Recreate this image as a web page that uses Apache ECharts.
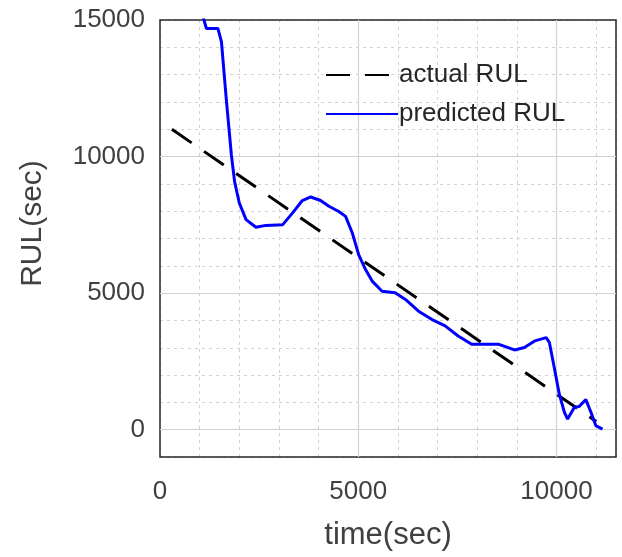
<!DOCTYPE html>
<html>
<head>
<meta charset="utf-8">
<script src="https://cdn.jsdelivr.net/npm/echarts@6/dist/echarts.min.js"></script>
<style>
html,body{margin:0;padding:0;background:#fff;}
#c{width:622px;height:557px;}
</style>
</head>
<body>
<div id="c"></div>
<script>
// ---- data ----
const actualTime = [300, 11000];
const actualRUL = [11000, 300];

const predTime = [1050, 1170, 1460, 1550, 1670, 1800, 1880, 2000, 2170, 2420, 2670, 3090, 3340, 3590, 3800, 4050, 4260, 4510, 4680, 4850, 5010, 5180, 5350, 5600, 5930, 6190, 6520, 6850, 7190, 7520, 7860, 8190, 8530, 8940, 9190, 9450, 9740, 9820, 9950, 10070, 10200, 10280, 10450, 10570, 10740, 10870, 10990, 11160];
const predRUL = [15300, 14690, 14690, 14200, 12130, 10060, 9090, 8300, 7690, 7410, 7480, 7500, 7930, 8390, 8520, 8390, 8180, 7990, 7810, 7200, 6410, 5870, 5440, 5070, 5010, 4770, 4340, 4040, 3800, 3430, 3130, 3130, 3130, 2920, 3010, 3250, 3370, 3190, 2220, 1300, 630, 390, 820, 850, 1100, 630, 150, 20];

const xMajor = [0, 5000, 10000];
const yMajor = [0, 5000, 10000, 15000];
const xName = 'time(sec)';
const yName = 'RUL(sec)';
const seriesNames = ['actual RUL', 'predicted RUL'];

const zip = (a, b) => a.map((v, i) => [v, b[i]]);

const chart = echarts.init(document.getElementById('c'));
const font = 'Liberation Sans, Arial, Helvetica, sans-serif';
const gridCol = '#d2d2d2';
const textCol = '#404040';

chart.setOption({
  animation: false,
  textStyle: { fontFamily: font },
  grid: { left: 160, top: 20, right: 6, bottom: 100, show: true, z: 1, borderColor: '#262626', borderWidth: 1.5, backgroundColor: 'transparent' },
  legend: {
    orient: 'vertical',
    left: 320, top: 57,
    itemWidth: 72, itemHeight: 14, itemGap: 13,
    itemStyle: { opacity: 0 },
    textStyle: { fontSize: 26, color: '#262626', fontFamily: font, padding: [0, 0, 0, -4] },
    data: seriesNames
  },
  xAxis: {
    type: 'value', min: 0, max: 11500, interval: 1000,
    name: xName, nameLocation: 'middle', nameGap: 63,
    nameTextStyle: { fontSize: 31, color: textCol, fontFamily: font },
    axisLine: { show: false }, axisTick: { show: false },
    axisLabel: { margin: 22, fontSize: 26, color: textCol, fontFamily: font,
      formatter: v => (xMajor.indexOf(v) >= 0 ? String(v) : '') },
    splitLine: { show: true, lineStyle: { color: gridCol, type: [3, 4], width: 1 } }
  },
  yAxis: {
    type: 'value', min: -1000, max: 15000, interval: 1000,
    name: yName, nameLocation: 'middle', nameGap: 112,
    nameTextStyle: { fontSize: 30, color: textCol, fontFamily: font, padding: [0, 0, 0, 30] },
    axisLine: { show: false }, axisTick: { show: false },
    axisLabel: { margin: 15, fontSize: 26, color: textCol, fontFamily: font,
      formatter: v => (yMajor.indexOf(v) >= 0 ? String(v) : '') },
    splitLine: { show: true, lineStyle: { color: gridCol, type: [3, 4], width: 1 } }
  },
  series: [
    {
      name: seriesNames[0], type: 'line', showSymbol: false, symbol: 'none',
      data: zip(actualTime, actualRUL),
      lineStyle: { color: '#000', width: 3, type: [24, 15] },
      itemStyle: { color: '#000' },
      z: 3,
      markLine: {
        silent: true, symbol: 'none', z: 1, animation: false,
        label: { show: false },
        lineStyle: { color: gridCol, type: 'solid', width: 1.2 },
        data: xMajor.filter(v => v > 0).map(v => ({ xAxis: v }))
          .concat(yMajor.filter(v => v < 15000).map(v => ({ yAxis: v })))
      }
    },
    {
      name: seriesNames[1], type: 'line', showSymbol: false, symbol: 'none',
      data: zip(predTime, predRUL),
      lineStyle: { color: '#0000ff', width: 3 },
      itemStyle: { color: '#0000ff' },
      clip: true, z: 4
    }
  ]
});
</script>
</body>
</html>
